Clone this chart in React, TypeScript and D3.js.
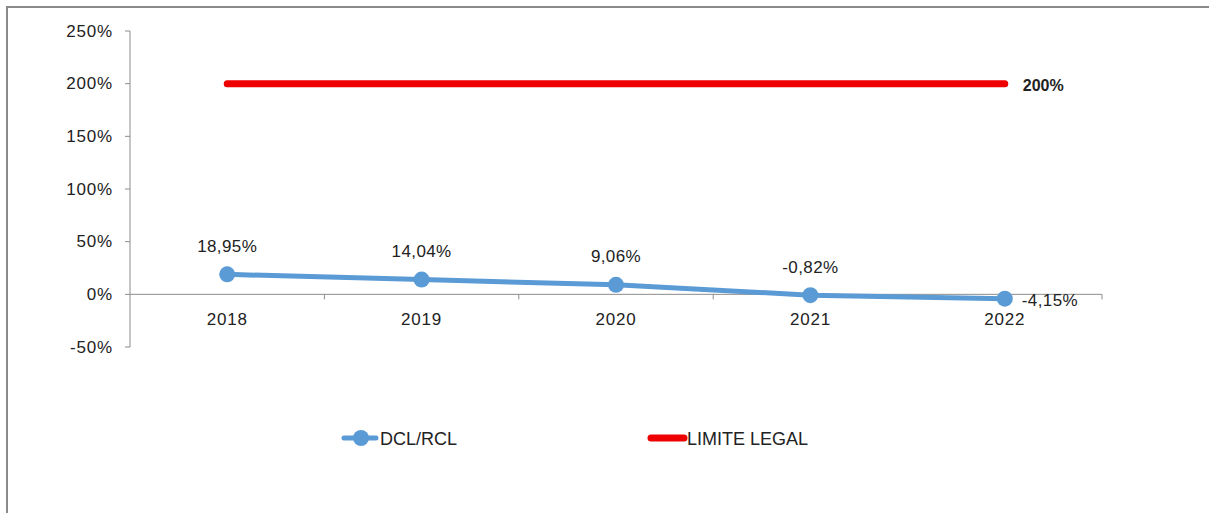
import React from "react";
import * as d3 from "d3";

const years = ["2018", "2019", "2020", "2021", "2022"];
const dclRcl = [18.95, 14.04, 9.06, -0.82, -4.15];
const dclLabels = ["18,95%", "14,04%", "9,06%", "-0,82%", "-4,15%"];
const limite = [200, 200, 200, 200, 200];
const yTicks = [-50, 0, 50, 100, 150, 200, 250];

const W = 1209;
const H = 513;
const FONT = "'Liberation Sans', Arial, sans-serif";

export default function App() {
  const x = d3.scaleBand<string>().domain(years).range([130, 1102]);
  const y = d3.scaleLinear().domain([-50, 250]).range([347, 31]);
  const cx = (d: string) => (x(d) as number) + x.bandwidth() / 2;
  const line = d3
    .line<number>()
    .x((_, i) => cx(years[i]))
    .y((v) => y(v));
  const y0 = y(0);
  const boundaries = years.map((d) => (x(d) as number) + x.bandwidth());
  const txt = { fontSize: 17, letterSpacing: 0.8, fill: "#222" };

  return (
    <svg
      width={W}
      height={H}
      style={{ position: "absolute", left: 0, top: 0, background: "#fff" }}
      fontFamily={FONT}
    >
      <rect x={0} y={0} width={W} height={H} fill="#fff" />
      {/* frame */}
      <path d={`M7,${H} V7 H${W}`} fill="none" stroke="#8a8a8a" strokeWidth={2} />

      {/* y axis */}
      <line x1={130} x2={130} y1={y(250)} y2={y(-50)} stroke="#8c8c8c" strokeWidth={1} />
      {yTicks.map((t) => (
        <g key={t}>
          <line x1={125} x2={130} y1={y(t)} y2={y(t)} stroke="#8c8c8c" />
          <text
            x={113}
            y={y(t)}
            textAnchor="end"
            dominantBaseline="central"
            {...txt}
          >
            {t}%
          </text>
        </g>
      ))}

      {/* x axis */}
      <line x1={130} x2={1102} y1={y0} y2={y0} stroke="#8c8c8c" />
      {boundaries.map((b, i) => (
        <line key={i} x1={b} x2={b} y1={y0} y2={y0 + 5} stroke="#8c8c8c" />
      ))}
      {years.map((d) => (
        <text
          key={d}
          x={cx(d)}
          y={y0 + 25}
          textAnchor="middle"
          dominantBaseline="central"
          {...txt}
        >
          {d}
        </text>
      ))}

      {/* limite legal */}
      <path
        d={line(limite) as string}
        fill="none"
        stroke="#ee0000"
        strokeWidth={7}
        strokeLinecap="round"
      />
      <text
        x={cx(years[4]) + 18}
        y={y(200) + 2}
        dominantBaseline="central"
        fontSize={16}
        fontWeight="bold"
        fill="#222"
      >
        200%
      </text>

      {/* DCL/RCL */}
      <path
        d={line(dclRcl) as string}
        fill="none"
        stroke="#5b9bd5"
        strokeWidth={5}
        strokeLinecap="round"
      />
      {dclRcl.map((v, i) => (
        <circle key={i} cx={cx(years[i])} cy={y(v)} r={8} fill="#5b9bd5" />
      ))}
      {dclRcl.map((v, i) =>
        i < 4 ? (
          <text
            key={i}
            x={cx(years[i])}
            y={y(v) - 28}
            textAnchor="middle"
            dominantBaseline="central"
            {...txt}
            letterSpacing={0.4}
          >
            {dclLabels[i]}
          </text>
        ) : (
          <text
            key={i}
            x={cx(years[i]) + 17}
            y={y(v) + 2}
            dominantBaseline="central"
            {...txt}
            letterSpacing={0.4}
          >
            {dclLabels[i]}
          </text>
        )
      )}

      {/* legend */}
      <line x1={344} x2={376} y1={438} y2={438} stroke="#5b9bd5" strokeWidth={5} strokeLinecap="round" />
      <circle cx={361} cy={438} r={8} fill="#5b9bd5" />
      <text x={380} y={439} dominantBaseline="central" fontSize={18} fill="#222">
        DCL/RCL
      </text>
      <line x1={651} x2={684} y1={438} y2={438} stroke="#ee0000" strokeWidth={7} strokeLinecap="round" />
      <text x={687} y={439} dominantBaseline="central" fontSize={18} fill="#222">
        LIMITE LEGAL
      </text>
    </svg>
  );
}
